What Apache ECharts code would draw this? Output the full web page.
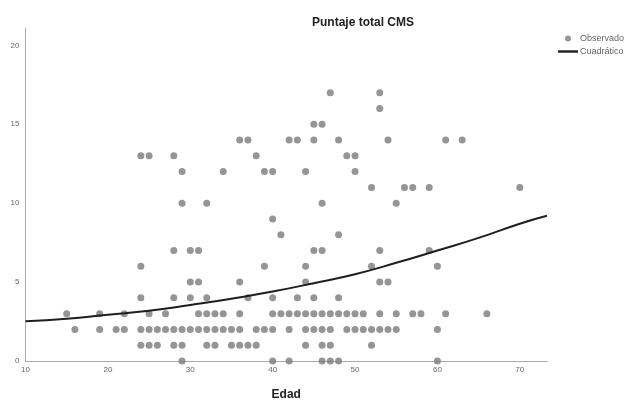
<!DOCTYPE html>
<html>
<head>
<meta charset="utf-8">
<script src="https://cdn.jsdelivr.net/npm/echarts@6/dist/echarts.min.js"></script>
<style>html,body{margin:0;padding:0;background:#fff;}#c{width:634px;height:406px;}</style>
</head>
<body>
<div id="c"></div>
<script>
// Observed points (Edad, Puntaje total CMS), grouped by score row
const edad = [
  29,40,42,46,47,48,60,
  24,25,26,28,29,32,33,35,36,37,38,44,46,47,52,
  16,19,21,22,24,25,26,27,28,29,30,31,32,33,34,35,36,38,39,40,42,44,45,46,47,49,50,51,52,53,54,55,60,
  15,19,22,25,27,31,32,33,34,36,40,41,42,43,44,45,46,47,48,49,50,51,53,55,57,58,61,66,
  24,28,30,32,37,40,43,45,48,
  30,31,36,44,53,54,
  24,39,44,52,60,
  28,30,31,45,46,53,59,
  41,48,
  40,
  29,32,46,55,
  52,56,57,59,70,
  29,34,39,40,44,50,
  24,25,28,38,49,50,
  36,37,42,43,45,48,54,61,63,
  45,46,
  53,
  47,53
];
const puntaje = [
  0,0,0,0,0,0,0,
  1,1,1,1,1,1,1,1,1,1,1,1,1,1,1,
  2,2,2,2,2,2,2,2,2,2,2,2,2,2,2,2,2,2,2,2,2,2,2,2,2,2,2,2,2,2,2,2,2,
  3,3,3,3,3,3,3,3,3,3,3,3,3,3,3,3,3,3,3,3,3,3,3,3,3,3,3,3,
  4,4,4,4,4,4,4,4,4,
  5,5,5,5,5,5,
  6,6,6,6,6,
  7,7,7,7,7,7,7,
  8,8,
  9,
  10,10,10,10,
  11,11,11,11,11,
  12,12,12,12,12,12,
  13,13,13,13,13,13,
  14,14,14,14,14,14,14,14,14,
  15,15,
  16,
  17,17
];
// Quadratic fit curve
const curveX = [10, 15, 20, 25, 30, 35, 40, 45, 50, 55, 60, 65, 70, 73.3];
const curveY = [2.52, 2.68, 2.93, 3.18, 3.55, 3.95, 4.4, 4.93, 5.5, 6.22, 7.0, 7.8, 8.7, 9.2];
const xTicks = [10, 20, 30, 40, 50, 60, 70];
const yTicks = [0, 5, 10, 15, 20];

const scatterData = edad.map((x, i) => [x, puntaje[i]]);
const curveData = curveX.map((x, i) => [x, curveY[i]]);

const chart = echarts.init(document.getElementById('c'), null, {renderer: 'canvas'});
const FONT = 'Liberation Sans, Arial, sans-serif';
chart.setOption({
  animation: false,
  backgroundColor: '#ffffff',
  title: {
    text: 'Puntaje total CMS',
    left: 307, top: 12,
    textStyle: {fontFamily: FONT, fontSize: 12, fontWeight: 'bold', color: '#222'}
  },
  legend: {
    orient: 'vertical',
    left: 558, top: 34,
    padding: 0,
    itemGap: 4,
    itemWidth: 20, itemHeight: 6,
    textStyle: {fontFamily: FONT, fontSize: 9, color: '#666', padding: [0, 0, 0, -3]},
    data: [
      {name: 'Observado', icon: 'circle'},
      {name: 'Cuadrático', icon: 'path://M0,0L20,0L20,2.4L0,2.4Z'}
    ]
  },
  grid: {left: 25.5, top: 28, width: 521.5, height: 338, containLabel: false},
  xAxis: {
    type: 'value',
    min: 10, max: 73.3, interval: 10,
    name: 'Edad', nameLocation: 'middle', nameGap: 28,
    nameTextStyle: {fontFamily: FONT, fontSize: 12, fontWeight: 'bold', color: '#222'},
    axisLine: {show: true, lineStyle: {color: '#aaa', width: 1}},
    axisTick: {show: false},
    splitLine: {show: false},
    axisLabel: {
      fontFamily: FONT, fontSize: 8, color: '#666', margin: 5, showMaxLabel: false,
      formatter: v => xTicks.includes(v) ? String(v) : ''
    }
  },
  yAxis: {
    type: 'value',
    min: 0, max: 21.1, interval: 5,
    axisLine: {show: true, lineStyle: {color: '#aaa', width: 1}},
    axisTick: {show: false},
    splitLine: {show: false},
    axisLabel: {
      fontFamily: FONT, fontSize: 8, color: '#666', margin: 6, showMaxLabel: false,
      formatter: v => yTicks.includes(v) ? String(v) : ''
    }
  },
  series: [
    {
      name: 'Observado', type: 'scatter', data: scatterData,
      symbol: 'circle', symbolSize: 7,
      itemStyle: {color: '#7a7a7a'}
    },
    {
      name: 'Cuadrático', type: 'line', data: curveData,
      smooth: true, showSymbol: false, symbol: 'none',
      lineStyle: {color: '#1e1e1e', width: 2},
      itemStyle: {color: '#1e1e1e'}
    }
  ]
});
</script>
</body>
</html>
